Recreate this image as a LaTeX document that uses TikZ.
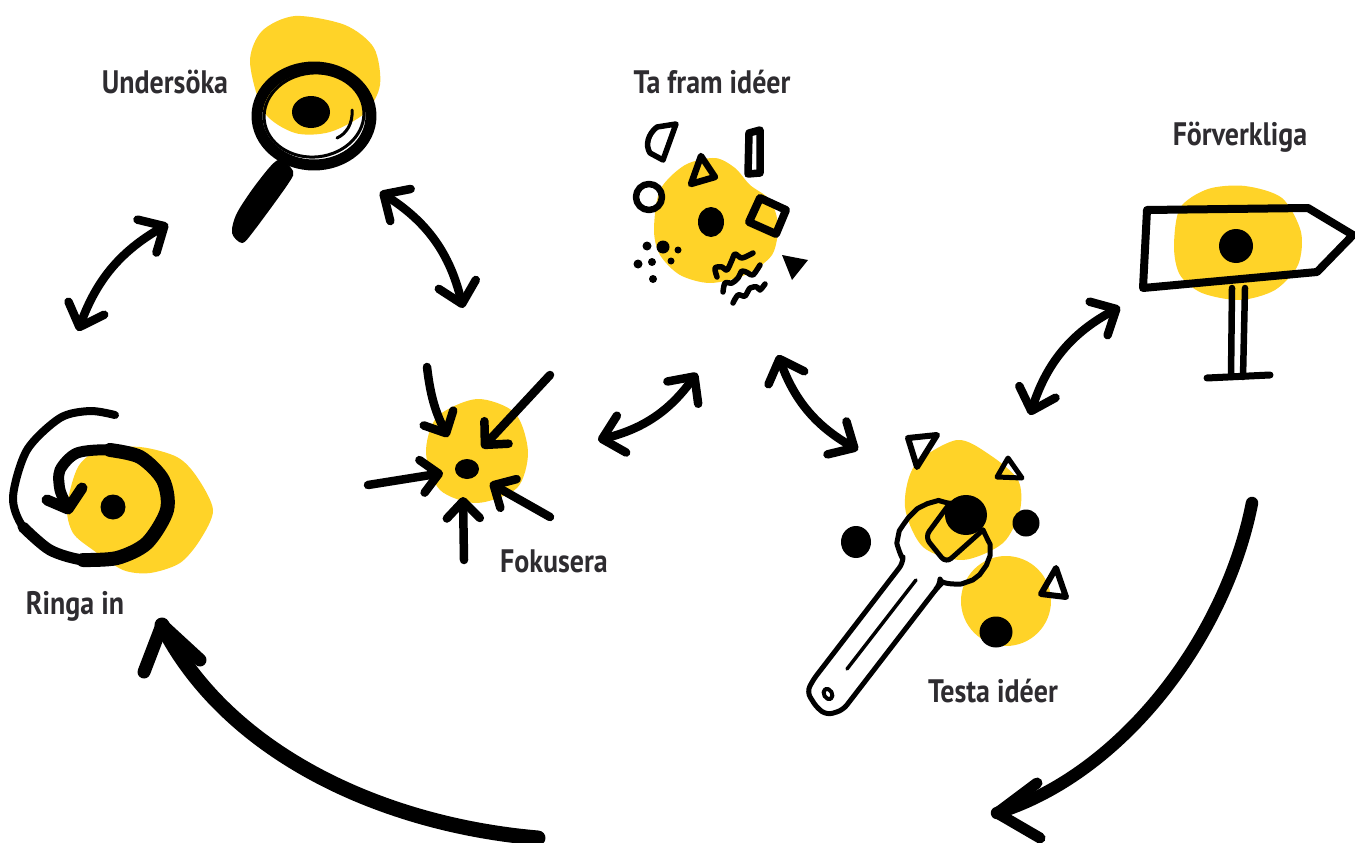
\documentclass[tikz,border=0pt]{standalone}
\usepackage{fontspec}
\setmainfont{PT Sans}[FakeStretch=0.86]
\usetikzlibrary{arrows.meta}
\definecolor{blobyellow}{HTML}{FFD328}
\definecolor{labelgray}{HTML}{2E2C30}

\begin{document}
\begin{tikzpicture}[x=1pt,y=-1pt,line cap=round,line join=round,
      every node/.style = {font=\bfseries\fontsize{32.5}{36}\selectfont, text=labelgray, inner sep=0pt},
      blob/.style = {fill=blobyellow},
      spot/.style = {fill=black},
      ink/.style = {draw=black, line width=#1},
      ink/.default = 5,
      twoway/.style = {draw=black, line width=8.5, {Straight Barb[length=20pt,width=38pt,round]}-{Straight Barb[length=20pt,width=38pt,round]}},
      inward/.style = {draw=black, line width=8.5, -{Straight Barb[length=17pt,width=33pt,round]}}]
      \useasboundingbox (0,0) rectangle (1355,843);

      % Undersoka
      \fill[blob] plot[smooth cycle] coordinates {(250,62) (262,31) (295,16) (345,25) (374,48) (380,85) (365,113) (330,132) (295,133) (264,112)};
      \fill[spot] (311,112) ellipse [x radius=19, y radius=16];
      \draw[ink=11] (314,116) ellipse [x radius=57, y radius=49];
      \draw[ink=3] (314,115) ellipse [x radius=50, y radius=42, rotate=6];
      \draw[ink=3] (352,110) .. controls (353,124) and (346,134) .. (337,138);
      \fill[spot] plot[smooth cycle] coordinates {(278,160) (293,171) (288,184) (253,232) (242,243) (232,233) (237,213) (257,183)};
      \node (undersoka) at (165,82) {Undersöka};

      % Ta fram ideer
      \fill[blob] plot[smooth cycle] coordinates {(654,230) (660,190) (685,165) (715,158) (735,168) (750,185) (770,200) (778,225) (772,255) (745,275) (710,283) (680,275) (660,255)};
      \fill[spot] (711,222) ellipse [x radius=13, y radius=15];
      \draw[ink=5.5] (676,124) -- (657,127) .. controls (648,134) and (645,145) .. (650,153) -- (663,160) -- cycle;
      \draw[ink=7.5] (749,133) -- (760,130) -- (760,173) -- (748,174) -- cycle;
      \draw[ink=6.5] (701,156) -- (715,177) -- (691,184) -- cycle;
      \draw[ink=6.5] (649,197) circle [radius=13];
      \draw[ink=8] (760,198) -- (786,210) -- (776,234) -- (749,222) -- cycle;
      \fill[spot] (782,255) -- (808,260) -- (792,280) -- cycle;
      \foreach \px/\py/\pr in {647/246/4.5,663/247/6.5,678/250/3.5,638/264/4.5,652/262/4,671/261/3.5,653/279/4}
        \fill[spot] (\px,\py) circle [radius=\pr];
      \draw[ink=5.5] plot[smooth] coordinates {(717,277) (715,268) (722,267) (727,270) (732,260) (735,254) (742,258) (753,253)};
      \draw[ink=5.5] plot[smooth] coordinates {(723,292) (725,283) (732,283) (738,278) (742,271) (748,273) (753,275) (760,265)};
      \draw[ink=5.5] plot[smooth] coordinates {(733,303) (738,295) (745,296) (750,288) (757,287) (760,290) (765,284)};
      \node (taframideer) at (712,82) {Ta fram idéer};

      % Forverkliga
      \fill[blob] plot[smooth cycle] coordinates {(1174,247) (1180,208) (1208,189) (1245,186) (1282,198) (1301,232) (1298,265) (1275,290) (1240,300) (1202,293) (1180,275)};
      \fill[spot] (1236,246) circle [radius=17];
      \draw[ink=8] (1147,210) -- (1308,208) -- (1353,235) -- (1317,272) -- (1143,288) -- cycle;
      \draw[ink=6.5] (1232,288) -- (1231,377);
      \draw[ink=6.5] (1245,288) -- (1243,377);
      \draw[ink=7] (1207,378) -- (1270,375);
      \node (forverkliga) at (1240,137) {Förverkliga};

      % Testa ideer
      \fill[blob] plot[smooth cycle] coordinates {(905,507) (915,465) (957,440) (990,455) (1018,480) (1020,510) (1003,543) (963,560) (923,547)};
      \fill[blob] (1006,601) circle [radius=45];
      \draw[ink=6] (908,438) -- (937,435) -- (917,467) -- cycle;
      \draw[ink=5] (1008,458) -- (1022,478) -- (997,477) -- cycle;
      \draw[ink=6] (1056,568) -- (1066,597) -- (1041,594) -- cycle;
      \draw[ink=5,rounded corners=6] plot[smooth] coordinates {(948,503) (933,502) (913,513) (898,537) (903,563)} -- (813,680) -- (807,692) -- (817,708) -- (827,715) -- (843,710) -- (937,588) -- (940,585) -- plot[smooth] coordinates {(940,585) (967,582) (983,570) (990,550) (983,530)};
      \draw[ink=5,rounded corners=7] (950,503) -- (925,537) -- (946,563) -- (983,530);
      \draw[ink=3.5] (916,580) -- (847,669);
      \draw[ink=4] (828,694) ellipse [x radius=4, y radius=5.5, rotate=30];
      \fill[spot] (966,515) ellipse [x radius=21, y radius=20];
      \fill[spot] (1026,523) circle [radius=13.5];
      \fill[spot] (856,542) ellipse [x radius=15, y radius=16];
      \fill[spot] (996,632) ellipse [x radius=16.5, y radius=15.5];
      \node (testaideer) at (993,691) {Testa idéer};

      % Fokusera
      \fill[blob] plot[smooth cycle] coordinates {(426,453) (437,417) (477,399) (515,413) (528,452) (517,488) (477,503) (440,490)};
      \fill[spot] (467,469) ellipse [x radius=12, y radius=10];
      \coordinate (ina1) at (427,367);
      \coordinate (ina2) at (448,437);
      \coordinate (inb1) at (550,375);
      \coordinate (inb2) at (482,448);
      \coordinate (inc1) at (368,485);
      \coordinate (inc2) at (443,473);
      \coordinate (ind1) at (464,560);
      \coordinate (ind2) at (463,497);
      \coordinate (ine1) at (550,517);
      \coordinate (ine2) at (490,483);
      \draw[inward] (ina1) to[bend right=10] (ina2);
      \foreach \from/\to in {inb1/inb2,inc1/inc2,ind1/ind2,ine1/ine2}
        \draw[inward] (\from) -- (\to);
      \node (fokusera) at (554,561) {Fokusera};

      % Ringa in
      \fill[blob] plot[smooth cycle] coordinates {(67,507) (78,467) (100,450) (140,447) (177,457) (197,477) (213,510) (200,540) (180,563) (150,573) (123,570) (93,550) (73,533)};
      \fill[spot] (113,507) ellipse [x radius=12.5, y radius=12.5];
      \draw[ink=8] plot[smooth] coordinates {(115,415) (90,411) (60,418) (27,450) (13,497) (23,527) (50,550)};
      \draw[ink=11] plot[smooth] coordinates {(23,527) (50,550) (83,560) (117,558)};
      \draw[ink=14] plot[smooth] coordinates {(83,560) (117,558) (147,543) (167,510) (163,480) (140,457) (110,450)};
      \draw[ink=11] plot[smooth] coordinates {(140,457) (110,450) (77,453) (60,470) (60,490) (68,508)};
      \draw[ink=11] (47,500) -- (68,509) -- (82,488);
      \node (ringain) at (75,606) {Ringa in};

      % Pilar
      \coordinate (ua) at (168,224);
      \coordinate (ub) at (78,331);
      \coordinate (uc) at (380,192);
      \coordinate (ud) at (463,308);
      \coordinate (fa) at (598,440);
      \coordinate (fb) at (697,373);
      \coordinate (ta) at (778,355);
      \coordinate (tb) at (858,450);
      \coordinate (va) at (1030,415);
      \coordinate (vb) at (1120,307);
      \coordinate (la) at (1252,503);
      \coordinate (lb) at (997,813);
      \coordinate (lbup) at (1037,783);
      \coordinate (lbdown) at (1040,838);
      \coordinate (ma) at (538,838);
      \coordinate (mb) at (162,625);
      \coordinate (mbleft) at (144,672);
      \coordinate (mbright) at (200,660);
      \draw[twoway] (ua) to[bend right=20] (ub);
      \draw[twoway] (uc) to[bend left=22] (ud);
      \draw[twoway] (fa) to[bend right=20] (fb);
      \draw[twoway] (ta) to[bend right=20] (tb);
      \draw[twoway] (va) to[bend left=22] (vb);
      \draw[ink=12.5] (la) .. controls (1225,640) and (1120,775) .. (lb);
      \draw[ink=11] (lbup) -- (lb) -- (lbdown);
      \draw[ink=15] (ma) .. controls (385,825) and (228,755) .. (mb);
      \draw[ink=13] (mbleft) -- (mb) -- (mbright);
  \end{tikzpicture}
\end{document}
